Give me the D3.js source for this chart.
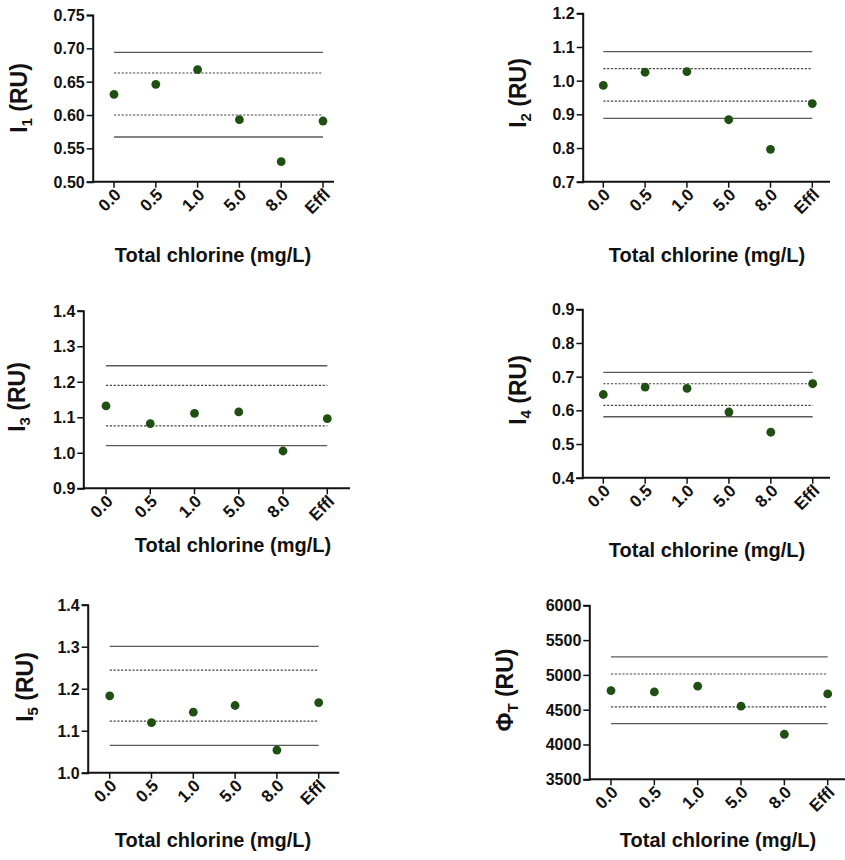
<!DOCTYPE html>
<html>
<head>
<meta charset="utf-8">
<script src="https://cdn.jsdelivr.net/npm/d3@7"></script>
<style>
  html, body { margin: 0; padding: 0; background: #fff; }
  svg { display: block; font-family: "Liberation Sans", Arial, sans-serif; }
</style>
</head>
<body>
<svg id="chart" width="845" height="860"></svg>
<script>
// ---------- data ----------
const categories = ["0.0", "0.5", "1.0", "5.0", "8.0", "Effl"];

const i1Values = [0.631, 0.646, 0.668, 0.593, 0.530, 0.591];
const i1Bands  = [0.694, 0.663, 0.600, 0.567]; // solid hi, dashed hi, dashed lo, solid lo
const i1Ticks  = [0.50, 0.55, 0.60, 0.65, 0.70, 0.75];

const i2Values = [0.986, 1.025, 1.027, 0.884, 0.796, 0.932];
const i2Bands  = [1.086, 1.036, 0.939, 0.888];
const i2Ticks  = [0.7, 0.8, 0.9, 1.0, 1.1, 1.2];

const i3Values = [1.132, 1.082, 1.111, 1.115, 1.005, 1.096];
const i3Bands  = [1.245, 1.190, 1.076, 1.020];
const i3Ticks  = [0.9, 1.0, 1.1, 1.2, 1.3, 1.4];

const i4Values = [0.647, 0.669, 0.665, 0.595, 0.535, 0.679];
const i4Bands  = [0.713, 0.679, 0.615, 0.581];
const i4Ticks  = [0.4, 0.5, 0.6, 0.7, 0.8, 0.9];

const i5Values = [1.183, 1.119, 1.144, 1.160, 1.054, 1.167];
const i5Bands  = [1.301, 1.244, 1.123, 1.065];
const i5Ticks  = [1.0, 1.1, 1.2, 1.3, 1.4];

const phiValues = [4775, 4755, 4838, 4550, 4147, 4726];
const phiBands  = [5258, 5013, 4540, 4300];
const phiTicks  = [3500, 4000, 4500, 5000, 5500, 6000];

const xTitle = "Total chlorine (mg/L)";

// ---------- layout ----------
const panels = [
  { values: i1Values, bands: i1Bands, ticks: i1Ticks, fmt: ".2f", sym: "I", sub: "1",
    ax: 92.7, yTop: 15, yBot: 181.7, c0: 114, c1: 323, axEnd: 334,
    yt: [19, 98], xt: [213, 262] },
  { values: i2Values, bands: i2Bands, ticks: i2Ticks, fmt: ".1f", sym: "I", sub: "2",
    ax: 582.7, yTop: 13.3, yBot: 181.7, c0: 603.3, c1: 812.3, axEnd: 830,
    yt: [518, 93], xt: [707, 262] },
  { values: i3Values, bands: i3Bands, ticks: i3Ticks, fmt: ".1f", sym: "I", sub: "3",
    ax: 83.3, yTop: 310.7, yBot: 488.3, c0: 106, c1: 327.3, axEnd: 350,
    yt: [17, 397], xt: [233, 552] },
  { values: i4Values, bands: i4Bands, ticks: i4Ticks, fmt: ".1f", sym: "I", sub: "4",
    ax: 582.3, yTop: 309.3, yBot: 477.7, c0: 603.3, c1: 812.7, axEnd: 830,
    yt: [518, 390], xt: [707, 557] },
  { values: i5Values, bands: i5Bands, ticks: i5Ticks, fmt: ".1f", sym: "I", sub: "5",
    ax: 87.7, yTop: 604.7, yBot: 772.7, c0: 109.7, c1: 318.7, axEnd: 339.3,
    yt: [25, 687], xt: [213, 847] },
  { values: phiValues, bands: phiBands, ticks: phiTicks, fmt: "d", sym: "\u03A6", sub: "T",
    ax: 589.3, yTop: 605.3, yBot: 779.3, c0: 611, c1: 827.7, axEnd: 845,
    yt: [505, 690], xt: [718, 847] }
];

const svg = d3.select("#chart");

panels.forEach(p => {
  const g = svg.append("g");
  const y = d3.scaleLinear()
    .domain([d3.min(p.ticks), d3.max(p.ticks)])
    .range([p.yBot, p.yTop]);
  const x = d3.scalePoint().domain(categories).range([p.c0, p.c1]);

  // reference band lines
  const styles = [
    { dash: null, color: "#5a5a5a", w: 1.3 },
    { dash: "2.2,1.6", color: "#444", w: 1.2 },
    { dash: "2.2,1.6", color: "#444", w: 1.2 },
    { dash: null, color: "#5a5a5a", w: 1.3 }
  ];
  g.selectAll("line.band").data(p.bands).enter().append("line")
    .attr("class", "band")
    .attr("x1", x(categories[0]))
    .attr("x2", x(categories[categories.length - 1]))
    .attr("y1", d => y(d)).attr("y2", d => y(d))
    .attr("stroke", (d, i) => styles[i].color)
    .attr("stroke-width", (d, i) => styles[i].w)
    .attr("stroke-dasharray", (d, i) => styles[i].dash);

  // y axis
  const yAxis = d3.axisLeft(y).tickValues(p.ticks)
    .tickFormat(d3.format(p.fmt)).tickSizeOuter(0).tickSize(6);
  const ya = g.append("g").attr("transform", `translate(${p.ax},0)`).call(yAxis);
  ya.select(".domain").attr("stroke", "#111").attr("stroke-width", 2);
  ya.selectAll(".tick line").attr("stroke", "#111").attr("stroke-width", 1.5);
  ya.selectAll(".tick text")
    .attr("font-size", 16).attr("font-weight", "bold").attr("fill", "#111")
    .attr("x", -8).attr("dy", "0.34em");

  // x axis
  const xa = g.append("g").attr("transform", `translate(0,${p.yBot})`);
  xa.append("line").attr("x1", p.ax).attr("x2", p.axEnd)
    .attr("stroke", "#111").attr("stroke-width", 2);
  const xt = xa.selectAll("g.xt").data(categories).enter().append("g")
    .attr("class", "xt").attr("transform", d => `translate(${x(d)},0)`);
  xt.append("line").attr("y1", 0).attr("y2", 6)
    .attr("stroke", "#111").attr("stroke-width", 1.5);
  xt.append("text")
    .attr("transform", "translate(8,14) rotate(-45)")
    .attr("text-anchor", "end")
    .attr("font-size", 17).attr("font-weight", "bold").attr("fill", "#111")
    .text(d => d);

  // points
  g.selectAll("circle").data(p.values).enter().append("circle")
    .attr("cx", (d, i) => x(categories[i]))
    .attr("cy", d => y(d))
    .attr("r", 4.4)
    .attr("fill", "#1f4f12");

  // x title
  g.append("text")
    .attr("x", p.xt[0]).attr("y", p.xt[1])
    .attr("text-anchor", "middle")
    .attr("font-size", 20).attr("font-weight", "bold").attr("fill", "#111")
    .text(xTitle);

  // y title
  const yt = g.append("text")
    .attr("transform", `translate(${p.yt[0]},${p.yt[1]}) rotate(-90)`)
    .attr("text-anchor", "middle")
    .attr("dy", "0.35em")
    .attr("font-size", 23).attr("font-weight", "bold").attr("fill", "#111");
  yt.append("tspan").text(p.sym);
  yt.append("tspan").attr("font-size", 15).attr("dy", "0.3em").text(p.sub);
  yt.append("tspan").attr("dy", "-0.2em").text(" (RU)");
});
</script>
</body>
</html>
